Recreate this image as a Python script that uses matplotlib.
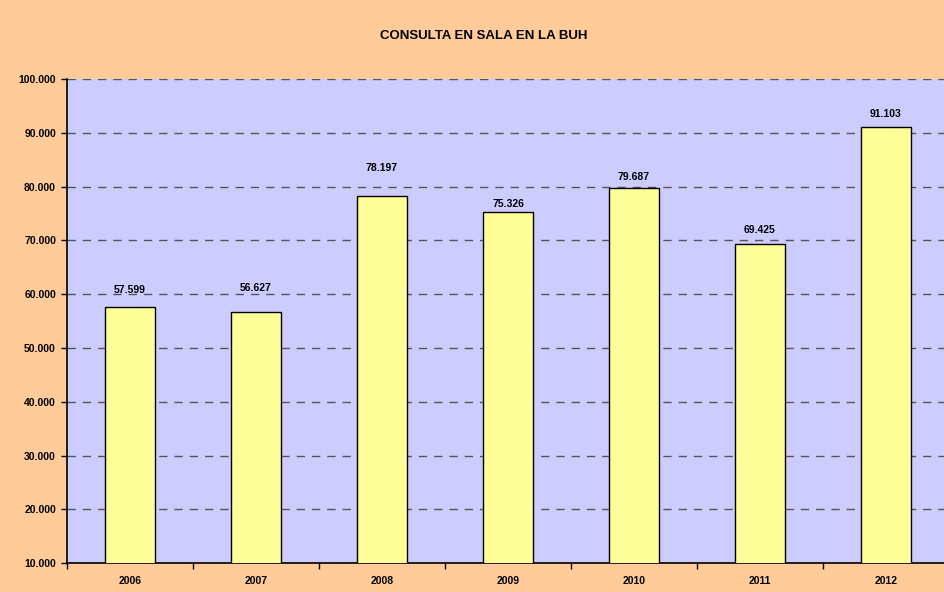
import matplotlib
matplotlib.use("Agg")
import matplotlib.pyplot as plt
from matplotlib.ticker import FixedLocator, FuncFormatter

years  = ["2006", "2007", "2008", "2009", "2010", "2011", "2012"]
visits = [57599, 56627, 78197, 75326, 79687, 69425, 91103]
# label offset above bar top (pixels), as laid out in the original
label_off = [17, 24, 28, 8, 11, 14, 13]

plt.rcParams["font.family"] = ["Liberation Sans", "DejaVu Sans"]

fig = plt.figure(figsize=(9.44, 5.92), dpi=100)
fig.patch.set_facecolor("#FFCC99")
ax = fig.add_axes([67 / 944, 28.7 / 592, 882 / 944, 484.3 / 592])
ax.set_facecolor("#CCCCFF")

x = list(range(len(years)))
ax.bar(x, visits, width=0.4, color="#FFFF99", edgecolor="black", linewidth=1, zorder=3)

ax.set_xlim(-0.5, len(years) - 0.5)
ax.set_ylim(10000, 100000)
ax.set_yticks(range(10000, 100001, 10000))
ax.yaxis.set_major_formatter(FuncFormatter(lambda v, p: f"{v/1000:.3f}"))
ax.grid(axis="y", color="#555555", linestyle=(0, (6, 5)), linewidth=1, zorder=1)

ax.set_xticks(x)
ax.set_xticklabels(years)
ax.xaxis.set_minor_locator(FixedLocator([i + 0.5 for i in range(-1, len(years))]))
ax.tick_params(axis="x", which="major", length=0, pad=9)
ax.tick_params(axis="x", which="minor", length=4, direction="out", width=1)
ax.tick_params(axis="y", length=4, direction="out", width=1, pad=4)
for lab in ax.get_xticklabels() + ax.get_yticklabels():
    lab.set_fontweight("bold")
    lab.set_fontsize(7.5)

for s in ["top", "right"]:
    ax.spines[s].set_visible(False)
for s in ["left", "bottom"]:
    ax.spines[s].set_color("black")
    ax.spines[s].set_linewidth(1.2)

for xi, v, off in zip(x, visits, label_off):
    ax.annotate(f"{v/1000:.3f}", (xi, v), xytext=(0, off * 0.72), textcoords="offset points",
                ha="center", va="center", fontsize=7.5, fontweight="bold", zorder=4)

fig.text(0.5 + 12 / 944, 1 - 36 / 592, "CONSULTA EN SALA EN LA BUH", ha="center", va="center",
         fontsize=9.5, fontweight="bold")

fig.savefig("out.png", dpi=100, facecolor=fig.get_facecolor())
